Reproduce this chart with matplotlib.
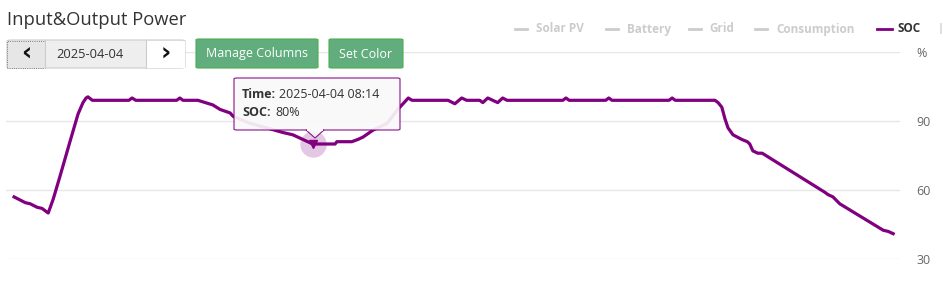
import matplotlib
matplotlib.use("Agg")
import matplotlib.pyplot as plt
from matplotlib.patches import FancyBboxPatch, Rectangle, Polygon
from matplotlib.lines import Line2D
import numpy as np

# SOC data (time of day, percent)
times = ["00:13", "00:31", "00:39", "00:50", "00:58", "01:08", "01:16", "01:27",
         "01:43", "01:56", "02:04", "02:09", "02:12", "02:19", "03:18", "03:23",
         "03:29", "04:35", "04:40", "04:45", "05:09", "05:21", "05:33", "05:45",
         "06:01", "06:06", "06:33", "07:00", "07:26", "07:42", "07:58", "08:14",
         "08:26", "08:50", "08:53", "09:17", "09:27", "09:35", "09:51", "10:14",
         "10:31", "10:48", "10:54", "11:52", "12:03", "12:14", "12:22", "12:43",
         "12:48", "12:56", "13:04", "13:12", "13:20", "13:27", "14:57", "15:02",
         "15:07", "16:06", "16:11", "16:16", "17:48", "17:53", "17:58", "19:02",
         "19:07", "19:13", "19:18", "19:23", "19:31", "19:45", "19:54", "19:58",
         "20:03", "20:11", "20:18", "21:59", "22:04", "22:12", "22:23", "23:33",
         "23:41", "23:49"]
soc = [57, 54.5, 54, 52.5, 52, 50, 56, 66,
       81, 93, 98, 100, 100.5, 99, 99, 100,
       99, 99, 100, 99, 99, 98, 97, 95,
       93.5, 92, 89, 87, 85, 84, 82, 80,
       80, 80, 81, 81, 82, 83, 86, 89,
       95, 100, 99, 99, 97.5, 100, 99, 99,
       98, 100, 99, 98, 100, 99, 99, 100,
       99, 99, 100, 99, 99, 100, 99, 99,
       98, 96, 91, 87, 84, 82, 81, 80,
       77, 76, 76, 59, 58, 57, 54, 42.5,
       42, 41]

hover_time = "08:14"
hover_soc = 80
date_label = "2025-04-04"
legend_names = ["Solar PV", "Battery", "Grid", "Consumption", "SOC"]
y_ticks = [30, 60, 90, 120]
y_labels = ["30", "60", "90", "%"]

plt.rcParams['font.family'] = ['Open Sans', 'DejaVu Sans']

def to_hours(t):
    h, m = t.split(":")
    return int(h) + int(m) / 60.0

hours = np.array([to_hours(t) for t in times])

W, H = 943, 285
fig = plt.figure(figsize=(W / 100, H / 100), dpi=100)

def fx(x):
    return x / W

def fy(y):
    return 1 - y / H

# plot area
ax = fig.add_axes([fx(6), fy(259), fx(900) - fx(6), fy(52) - fy(259)])
ax.set_xlim(0, 24)
ax.set_ylim(30, 120)
for s in ax.spines.values():
    s.set_visible(False)
ax.set_xticks([])
ax.set_yticks(y_ticks)
ax.set_yticklabels(y_labels)
ax.yaxis.tick_right()
ax.tick_params(axis='y', length=0, pad=12, labelsize=9, labelcolor='#666666')
ax.grid(axis='y', color='#e6e6e6', linewidth=1)
ax.set_axisbelow(True)

ax.plot(hours, soc, color='#800080', linewidth=2.3, solid_joinstyle='round', zorder=3)

# hover halo + marker
hx = to_hours(hover_time)
ax.plot([hx], [hover_soc], 'o', markersize=19, color='#800080', alpha=0.22,
        markeredgewidth=0, zorder=4)
ax.plot([hx], [hover_soc], 'v', markersize=6, color='#800080', zorder=5)

# title
fig.text(fx(7), fy(20), "Input&Output Power", fontsize=13.2, color='#333333',
         va='center', ha='left')

# date navigation group
grp = FancyBboxPatch((fx(7), fy(68)), fx(185) - fx(7), fy(40) - fy(68),
                     boxstyle="round,pad=0,rounding_size=0.004",
                     transform=fig.transFigure, facecolor='#eeeeee',
                     edgecolor='#cccccc', linewidth=0.8, zorder=5)
fig.patches.append(grp)
fig.patches.append(Rectangle((fx(146), fy(67.5)), fx(184.5) - fx(146), fy(40.5) - fy(67.5),
                             transform=fig.transFigure, facecolor='white',
                             edgecolor='none', zorder=6))
fig.patches.append(Rectangle((fx(7.5), fy(67.5)), fx(45) - fx(7.5), fy(40.5) - fy(67.5),
                             transform=fig.transFigure, facecolor='#e6e6e6',
                             edgecolor='#555555', linewidth=0.6, linestyle=':', zorder=6))
for xs in [45, 146]:
    fig.lines.append(Line2D([fx(xs), fx(xs)], [fy(40), fy(68)], color='#cccccc',
                            linewidth=0.8, transform=fig.transFigure, zorder=7))
fig.text(fx(26), fy(54), "\u2039", fontsize=18, fontweight='bold', color='#111111',
         ha='center', va='center', zorder=8, family='DejaVu Sans')
fig.text(fx(166), fy(54), "\u203a", fontsize=18, fontweight='bold', color='#111111',
         ha='center', va='center', zorder=8, family='DejaVu Sans')
fig.text(fx(90), fy(54), date_label, fontsize=9.3, color='#333333',
         ha='center', va='center', zorder=8)

# green buttons
for x0, x1, label in [(196, 318, "Manage Columns"), (329, 403, "Set Color")]:
    b = FancyBboxPatch((fx(x0), fy(68)), fx(x1) - fx(x0), fy(39) - fy(68),
                       boxstyle="round,pad=0,rounding_size=0.003",
                       transform=fig.transFigure, facecolor='#62ad7e',
                       edgecolor='#4cae4c', linewidth=0.8, zorder=5)
    fig.patches.append(b)
    fig.text(fx((x0 + x1) / 2), fy(54), label, fontsize=9, color='white',
             ha='center', va='center', zorder=8)

# legend
legend_pos = [(515, 536), (606, 627), (689, 709), (755, 776), (877, 897)]
for (lx, tx), name in zip(legend_pos, legend_names):
    active = name == "SOC"
    lc = '#800080' if active else '#cccccc'
    tc = '#333333' if active else '#cccccc'
    fig.lines.append(Line2D([fx(lx), fx(lx + (15 if active else 12))], [fy(29), fy(29)],
                            color=lc, linewidth=2, transform=fig.transFigure))
    fig.text(fx(tx), fy(29), name, fontsize=8.5, fontweight='bold', color=tc,
             ha='left', va='center')
fig.text(fx(937), fy(29), "|", fontsize=8, color='#aaaaaa', ha='left', va='center')

# tooltip
tip = FancyBboxPatch((fx(234), fy(130)), fx(400) - fx(234), fy(78) - fy(130),
                     boxstyle="round,pad=0,rounding_size=0.003",
                     transform=fig.transFigure, facecolor='#f9f9f9', alpha=0.92,
                     edgecolor='#800080', linewidth=0.8, zorder=10)
fig.patches.append(tip)
fig.patches.append(Polygon([(fx(306), fy(130)), (fx(315), fy(138)), (fx(324), fy(130))],
                           closed=True, transform=fig.transFigure, facecolor='#f9f9f9',
                           alpha=0.92, edgecolor='#800080', linewidth=0.8, zorder=10))
fig.patches.append(Rectangle((fx(306.8), fy(131)), fx(323.2) - fx(306.8), fy(129.2) - fy(131),
                             transform=fig.transFigure, facecolor='#f9f9f9',
                             edgecolor='none', zorder=11))
fig.text(fx(242), fy(94), "Time:", fontsize=9, fontweight='bold', color='#333333',
         ha='left', va='center', zorder=12)
fig.text(fx(279), fy(94), date_label + " " + hover_time, fontsize=9, color='#333333',
         ha='left', va='center', zorder=12)
fig.text(fx(242), fy(113), "SOC:", fontsize=9, fontweight='bold', color='#333333',
         ha='left', va='center', zorder=12)
fig.text(fx(275), fy(113), "%d%%" % hover_soc, fontsize=9, color='#333333',
         ha='left', va='center', zorder=12)

fig.savefig("out.png", dpi=100)
